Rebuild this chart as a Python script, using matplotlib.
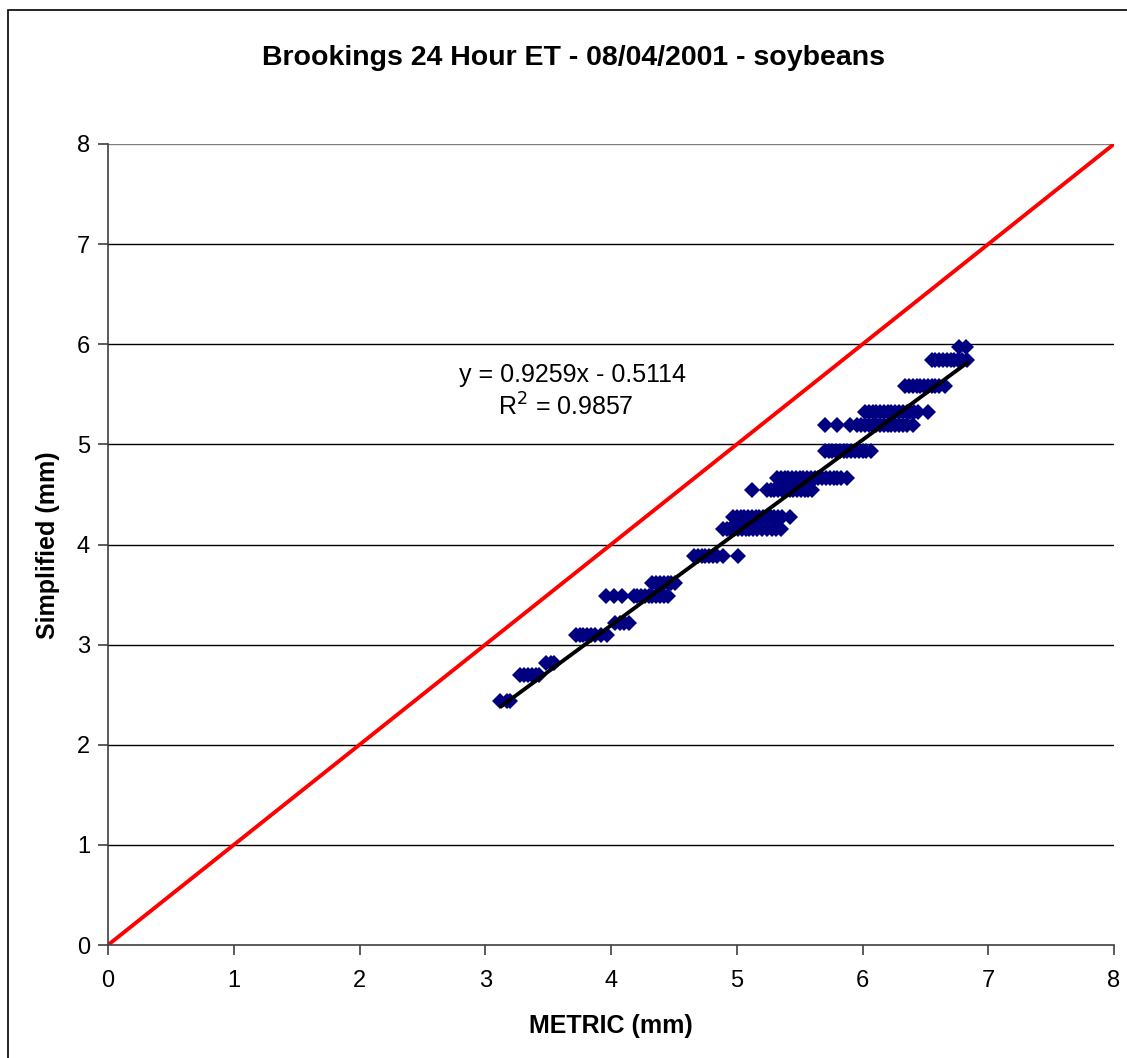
import matplotlib
matplotlib.use("Agg")
import matplotlib.pyplot as plt
from matplotlib.patches import Rectangle

plt.rcParams['font.family'] = ['Liberation Sans', 'DejaVu Sans']

# Data: each y level (discretized Simplified ET) with METRIC x values
levels = [2.44, 2.70, 2.82, 3.10, 3.22, 3.49, 3.62, 3.89, 4.15, 4.27,
          4.54, 4.66, 4.93, 5.19, 5.32, 5.58, 5.84, 5.97]
x_by_level = [
    [3.12, 3.17, 3.20],
    [3.28, 3.31, 3.34, 3.37, 3.40, 3.43],
    [3.48, 3.52, 3.55],
    [3.72, 3.75, 3.78, 3.81, 3.84, 3.87, 3.92, 3.97],
    [4.03, 4.07, 4.10, 4.14],
    [3.96, 4.02, 4.09, 4.18, 4.21, 4.24, 4.27, 4.30, 4.33, 4.36, 4.39, 4.42, 4.45],
    [4.33, 4.36, 4.39, 4.42, 4.45, 4.48, 4.51],
    [4.66, 4.69, 4.72, 4.75, 4.78, 4.81, 4.84, 4.89, 5.01],
    [4.89, 4.92, 4.95, 4.98, 5.01, 5.04, 5.07, 5.10, 5.13, 5.16, 5.20, 5.24, 5.28, 5.31, 5.35],
    [4.97, 5.00, 5.03, 5.06, 5.09, 5.12, 5.15, 5.18, 5.21, 5.24, 5.27, 5.30, 5.33, 5.36, 5.42],
    [5.12, 5.24, 5.27, 5.30, 5.33, 5.36, 5.39, 5.42, 5.45, 5.48, 5.51, 5.54, 5.57, 5.60],
    [5.32, 5.35, 5.38, 5.41, 5.44, 5.47, 5.50, 5.53, 5.56, 5.59, 5.62, 5.65, 5.68, 5.71,
     5.74, 5.77, 5.80, 5.83, 5.88],
    [5.70, 5.73, 5.76, 5.79, 5.82, 5.85, 5.88, 5.91, 5.94, 5.97, 6.00, 6.03, 6.07],
    [5.70, 5.80, 5.90, 5.96, 5.99, 6.02, 6.05, 6.08, 6.11, 6.14, 6.17, 6.20, 6.23, 6.26,
     6.29, 6.32, 6.35, 6.40],
    [6.02, 6.05, 6.08, 6.11, 6.14, 6.17, 6.20, 6.23, 6.26, 6.29, 6.32, 6.35, 6.38, 6.41,
     6.44, 6.52],
    [6.34, 6.37, 6.40, 6.43, 6.46, 6.49, 6.52, 6.55, 6.58, 6.61, 6.66],
    [6.55, 6.58, 6.61, 6.64, 6.67, 6.70, 6.73, 6.76, 6.79, 6.83],
    [6.77, 6.82],
]
slope = 0.9259
intercept = -0.5114
r2 = 0.9857
fit_x = [3.13, 6.83]
one_to_one = [0, 8]
ticks = [0, 1, 2, 3, 4, 5, 6, 7, 8]

xs, ys = [], []
for lv, xl in zip(levels, x_by_level):
    xs.extend(xl)
    ys.extend([lv] * len(xl))

W, H = 1127, 1058
fig = plt.figure(figsize=(W / 100, H / 100), dpi=100)
fig.patches.append(Rectangle((8 / W, -0.1), 1.2, 1 - 10 / H + 0.1, transform=fig.transFigure,
                             fill=False, edgecolor='black', linewidth=1.2))
ax = fig.add_axes([108 / W, 1 - 945 / H, (1114 - 108) / W, (945 - 144) / H])

ax.set_xlim(0, 8)
ax.set_ylim(0, 8)
ax.set_xticks(ticks)
ax.set_yticks(ticks)
for t in ticks[1:]:
    ax.axhline(t, color='black' if t < 8 else '#808080', linewidth=1, zorder=1)

ax.plot(one_to_one, one_to_one, color='#ff0000', linewidth=2.8, zorder=2, solid_capstyle='butt')
ax.plot(xs, ys, linestyle='none', marker='D', markersize=8.3, color='#000080',
        markeredgewidth=0, zorder=3)
fy = [slope * v + intercept for v in fit_x]
ax.plot(fit_x, fy, color='black', linewidth=2.8, zorder=4)

for s in ['top', 'right']:
    ax.spines[s].set_visible(False)
for s in ['left', 'bottom']:
    ax.spines[s].set_color('#404040')
    ax.spines[s].set_linewidth(1.2)
ax.tick_params(direction='out', length=7, width=1.2, color='#404040', labelsize=17)
ax.tick_params(axis='x', pad=11)
ax.tick_params(axis='y', pad=6)

ax.text(3.69, 5.69, f"y = {slope}x - {abs(intercept)}", ha='center', va='center', fontsize=18)
ax.text(3.64, 5.37, f"R$^2$ = {r2}", ha='center', va='center', fontsize=18)

fig.text(574 / W, 1 - 58 / H, "Brookings 24 Hour ET - 08/04/2001 - soybeans",
         ha='center', va='center', fontsize=20.5, fontweight='bold')
fig.text(611 / W, 1 - 1026 / H, "METRIC (mm)", ha='center', va='center',
         fontsize=18, fontweight='bold')
fig.text(48 / W, 1 - 545 / H, "Simplified (mm)", ha='center', va='center',
         rotation=90, fontsize=18, fontweight='bold')

fig.savefig("out.png", dpi=100)
